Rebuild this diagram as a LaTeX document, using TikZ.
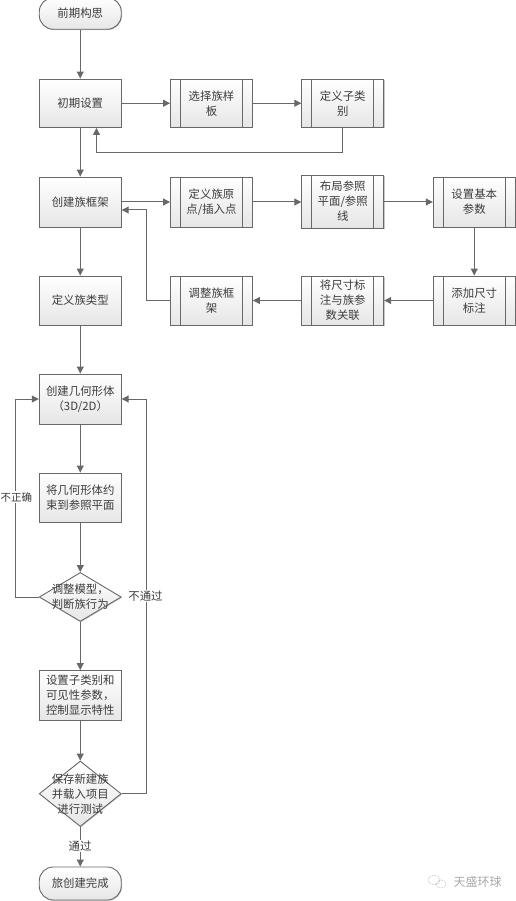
\documentclass[tikz,border=0pt]{standalone}
\usepackage{fontspec}
\setmainfont{Noto Sans CJK SC}
\usetikzlibrary{arrows.meta,shapes.geometric,shadows}
\newcommand{\dtext}[1]{\smash{\makebox[0pt]{\raisebox{-4pt}{\begin{tabular}{@{}c@{}}#1\end{tabular}}}}}
\tikzset{
  base/.style={draw=linec,line width=0.9pt,top color=white,bottom color=boxb,text=txt,
    font=\fontsize{11.4}{15}\selectfont,align=center,inner sep=0pt,
    drop shadow={shadow xshift=0.8pt,shadow yshift=-0.8pt,fill=black,opacity=.22}},
  procbox/.style={base,rectangle,minimum width=82pt},
  subbox/.style={base,rectangle,minimum width=82pt,
    path picture={\draw[linec,line width=0.9pt]
      ([xshift=10pt]path picture bounding box.south west) -- ([xshift=10pt]path picture bounding box.north west)
      ([xshift=-10pt]path picture bounding box.south east) -- ([xshift=-10pt]path picture bounding box.north east);}},
  termbox/.style={base,rectangle,rounded corners=14pt,minimum width=82pt},
  decbox/.style={base,diamond,minimum width=82pt},
  arr/.style={draw=linec,line width=1pt,-{Triangle[length=7pt,width=7pt,fill=linec]}},
  lab/.style={fill=white,text=txt,font=\fontsize{11.4}{15}\selectfont,inner sep=1pt},
  wmtext/.style={text=wm,font=\fontsize{12}{14}\selectfont,inner sep=0pt},
  wechat/.style={draw=wm,line width=0.6pt,densely dotted,ellipse,inner sep=0pt}
}
\definecolor{linec}{HTML}{686868}
\definecolor{boxb}{HTML}{E6E6E6}
\definecolor{txt}{HTML}{3C3C3C}
\definecolor{wm}{HTML}{A8A8A8}
\begin{document}
\begin{tikzpicture}[x=1pt,y=-1pt]
\useasboundingbox (0,0) rectangle (515,901);
% main column
\node[termbox,minimum height=31.5pt] (start) at (80.25,13.5) {前期构思};
\node[procbox,minimum height=48.5pt] (init) at (80.25,103.25) {初期设置};
\node[procbox,minimum height=50pt] (frame) at (80.25,202) {创建族框架};
\node[procbox,minimum height=49pt] (types) at (80.25,300.5) {定义族类型};
\node[procbox,minimum height=50pt] (geom) at (80.25,399) {创建几何形体\\（3D/2D）};
\node[procbox,minimum height=49.5pt] (cons) at (80.25,497.75) {将几何形体约\\束到参照平面};
\node[decbox,minimum height=49pt] (adj) at (80.25,597) {\dtext{调整模型，\\判断族行为}};
\node[procbox,minimum height=49.5pt] (vis) at (80.25,695.25) {设置子类别和\\可见性参数，\\控制显示特性};
\node[decbox,minimum height=65.5pt] (save) at (80.25,793.75) {\dtext{保存新建族\\并载入项目\\进行测试}};
\node[termbox,minimum height=33pt] (done) at (80.25,883.5) {旅创建完成};
% second and further columns
\node[subbox,minimum height=48.5pt] (tpl) at (211.5,103.25) {选择族样\\板};
\node[subbox,minimum height=48.5pt] (sub) at (342.75,103.25) {定义子类\\别};
\node[subbox,minimum height=50pt] (orig) at (211.5,202) {定义族原\\点/插入点};
\node[subbox,minimum height=53pt] (ref) at (342.75,201.5) {布局参照\\平面/参照\\线};
\node[subbox,minimum height=50pt] (par) at (474.25,202) {设置基本\\参数};
\node[subbox,minimum height=49pt] (dim) at (474.25,300.5) {添加尺寸\\标注};
\node[subbox,minimum height=49pt] (link) at (342.75,300.5) {将尺寸标\\注与族参\\数关联};
\node[subbox,minimum height=49pt] (tune) at (211.5,300.5) {调整族框\\架};
% routing points
\coordinate (r1) at (96.5,153);
\coordinate (r2) at (146,210);
\coordinate (r3) at (15,399);
\coordinate (r4) at (146,399);
% connectors
\draw[arr] (start) -- (init);
\draw[arr] (init) -- (frame);
\draw[arr] (frame) -- (types);
\draw[arr] (types) -- (geom);
\draw[arr] (geom) -- (cons);
\draw[arr] (cons) -- (adj);
\draw[arr] (adj) -- (vis);
\draw[arr] (vis) -- (save);
\draw[arr] (save) -- (done);
\draw[arr] (init) -- (tpl);
\draw[arr] (tpl) -- (sub);
\draw[arr] (sub.south) |- (r1) -- (r1 |- init.south);
\draw[arr] (frame) -- (orig);
\draw[arr] (orig) -- (ref.west |- orig);
\draw[arr] (ref.east |- par) -- (par);
\draw[arr] (par) -- (dim);
\draw[arr] (dim) -- (link);
\draw[arr] (link) -- (tune);
\draw[arr] (tune.west) -| (r2) -- (r2 -| frame.east);
\draw[arr] (adj.west) -| (r3) -- (r3 -| geom.west);
\draw[arr] (save.east) -| (r4) -- (r4 -| geom.east);
% labels
\node[lab,font=\fontsize{10.5}{15}\selectfont] (l1) at (16.5,497) {不正确};
\node[lab] (l2) at (145.5,596) {不通过};
\node[lab] (l3) at (80,846) {通过};
% watermark
\node[wechat,minimum width=12pt,minimum height=9pt] (w1) at (434,880) {};
\node[wechat,minimum width=10pt,minimum height=8pt] (w2) at (441,884) {};
\node[wmtext] (w3) at (477.5,881.5) {天盛环球};
\end{tikzpicture}
\end{document}
